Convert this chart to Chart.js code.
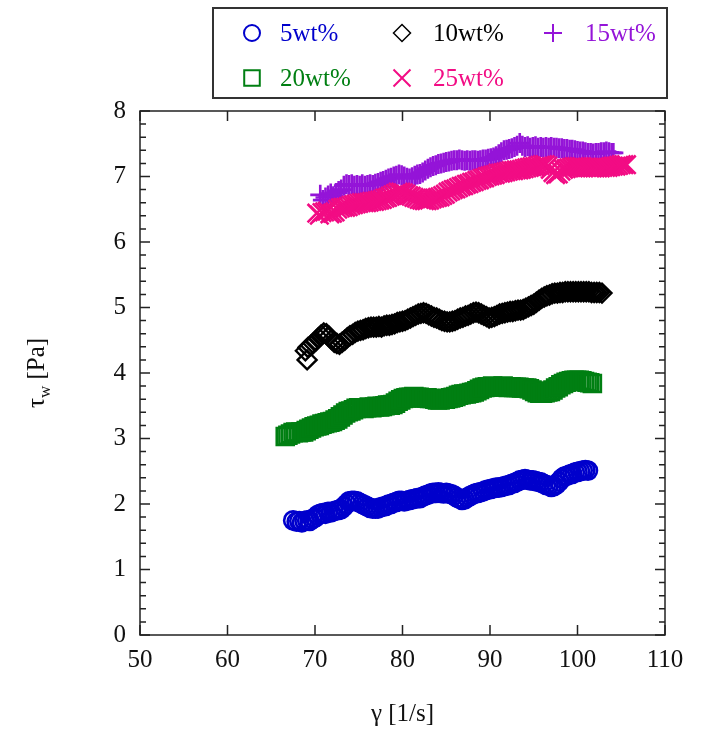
<!DOCTYPE html>
<html lang="en">
<head>
  <meta charset="UTF-8">
  <title>Wall shear stress</title>
  <style>
    body { margin: 0; background: #fff; }
    .chartContainer { position: relative; width: 705px; height: 729px; }
  </style>
</head>
<body>
  <div class="chartContainer">
    <canvas id="myChart"></canvas>
  </div>
  <script src="https://cdn.jsdelivr.net/npm/chart.js"></script>
  <script>
    // values: [shear rate, wall stress]
    const wt5 = [[67.5,1.75],[67.9,1.73],[68.2,1.74],[68.5,1.72],[68.8,1.74],[69.1,1.75],[69.4,1.74],[69.7,1.77],[70.0,1.79],[70.3,1.83],[70.6,1.85],[70.9,1.86],[71.2,1.85],[71.5,1.88],[71.8,1.87],[72.1,1.89],[72.4,1.90],[72.7,1.91],[73.0,1.92],[73.3,1.96],[73.6,2.00],[73.9,2.04],[74.2,2.05],[74.5,2.05],[74.8,2.04],[75.1,2.02],[75.4,2.00],[75.7,1.98],[76.0,1.96],[76.3,1.94],[76.6,1.93],[76.9,1.93],[77.2,1.93],[77.5,1.95],[77.8,1.96],[78.1,1.97],[78.4,1.99],[78.7,2.00],[79.0,2.02],[79.3,2.03],[79.6,2.05],[79.9,2.05],[80.2,2.04],[80.5,2.05],[80.8,2.06],[81.1,2.07],[81.4,2.08],[81.7,2.09],[82.0,2.09],[82.3,2.11],[82.6,2.13],[82.9,2.14],[83.2,2.16],[83.5,2.17],[83.8,2.17],[84.1,2.18],[84.4,2.17],[84.7,2.16],[85.0,2.17],[85.3,2.16],[85.6,2.15],[85.9,2.13],[86.2,2.10],[86.5,2.08],[86.8,2.06],[87.1,2.07],[87.4,2.10],[87.7,2.12],[88.0,2.14],[88.3,2.16],[88.6,2.17],[88.9,2.18],[89.2,2.19],[89.5,2.21],[89.8,2.22],[90.1,2.23],[90.4,2.24],[90.7,2.25],[91.0,2.25],[91.3,2.26],[91.6,2.27],[91.9,2.28],[92.2,2.29],[92.5,2.31],[92.8,2.32],[93.1,2.34],[93.4,2.36],[93.7,2.37],[94.0,2.38],[94.3,2.37],[94.6,2.36],[94.9,2.36],[95.2,2.35],[95.5,2.34],[95.8,2.33],[96.1,2.31],[96.4,2.29],[96.7,2.28],[97.0,2.26],[97.3,2.27],[97.6,2.30],[97.9,2.34],[98.2,2.39],[98.5,2.42],[98.8,2.43],[99.1,2.45],[99.4,2.46],[99.7,2.48],[100.0,2.49],[100.3,2.50],[100.6,2.51],[100.9,2.52],[101.2,2.51]]

    const wt10 = [[69.1,4.20],[68.9,4.34],[69.2,4.39],[69.5,4.42],[69.8,4.45],[70.1,4.49],[70.4,4.54],[70.7,4.58],[71.0,4.61],[71.3,4.60],[71.6,4.56],[71.9,4.51],[72.2,4.47],[72.5,4.45],[72.8,4.44],[73.1,4.47],[73.4,4.50],[73.7,4.54],[74.0,4.57],[74.3,4.59],[74.6,4.62],[74.9,4.64],[75.2,4.65],[75.5,4.66],[75.8,4.68],[76.1,4.69],[76.4,4.70],[76.7,4.70],[77.0,4.70],[77.3,4.71],[77.6,4.70],[77.9,4.72],[78.2,4.73],[78.5,4.73],[78.8,4.74],[79.1,4.75],[79.4,4.77],[79.7,4.78],[80.0,4.79],[80.3,4.80],[80.6,4.82],[80.9,4.84],[81.2,4.86],[81.5,4.88],[81.8,4.90],[82.1,4.91],[82.4,4.92],[82.7,4.91],[83.0,4.89],[83.3,4.87],[83.6,4.85],[83.9,4.84],[84.2,4.82],[84.5,4.80],[84.8,4.79],[85.1,4.78],[85.4,4.78],[85.7,4.79],[86.0,4.80],[86.3,4.82],[86.6,4.84],[86.9,4.85],[87.2,4.87],[87.5,4.88],[87.8,4.90],[88.1,4.92],[88.4,4.93],[88.7,4.92],[89.0,4.90],[89.3,4.88],[89.6,4.86],[89.9,4.84],[90.2,4.85],[90.5,4.86],[90.8,4.88],[91.1,4.90],[91.4,4.91],[91.7,4.92],[92.0,4.93],[92.3,4.94],[92.6,4.94],[92.9,4.95],[93.2,4.96],[93.5,4.96],[93.8,4.97],[94.1,4.99],[94.4,5.01],[94.7,5.03],[95.0,5.05],[95.3,5.08],[95.6,5.11],[95.9,5.14],[96.2,5.16],[96.5,5.18],[96.8,5.19],[97.1,5.21],[97.4,5.22],[97.7,5.22],[98.0,5.23],[98.3,5.23],[98.6,5.24],[98.9,5.24],[99.2,5.24],[99.5,5.24],[99.8,5.24],[100.1,5.24],[100.4,5.24],[100.7,5.24],[101.0,5.24],[101.3,5.24],[101.6,5.23],[101.9,5.23],[102.2,5.23],[102.5,5.23],[102.8,5.22]]

    const wt15 = [[70.6,6.72],[70.9,6.64],[71.2,6.68],[71.5,6.71],[71.8,6.74],[72.1,6.70],[72.4,6.75],[72.7,6.78],[73.0,6.80],[73.3,6.86],[73.6,6.88],[73.9,6.87],[74.2,6.88],[74.5,6.86],[74.8,6.87],[75.1,6.86],[75.4,6.88],[75.7,6.86],[76.0,6.87],[76.3,6.88],[76.6,6.87],[76.9,6.89],[77.2,6.90],[77.5,6.92],[77.8,6.93],[78.1,6.95],[78.4,6.97],[78.7,6.98],[79.0,7.00],[79.3,7.01],[79.6,7.03],[79.9,7.02],[80.2,7.00],[80.5,6.98],[80.8,6.97],[81.1,6.99],[81.4,7.01],[81.7,7.03],[82.0,7.04],[82.3,7.06],[82.6,7.09],[82.9,7.12],[83.2,7.14],[83.5,7.16],[83.8,7.17],[84.1,7.19],[84.4,7.20],[84.7,7.21],[85.0,7.22],[85.3,7.23],[85.6,7.24],[85.9,7.25],[86.2,7.25],[86.5,7.26],[86.8,7.25],[87.1,7.24],[87.4,7.25],[87.7,7.24],[88.0,7.25],[88.3,7.25],[88.6,7.24],[88.9,7.25],[89.2,7.26],[89.5,7.26],[89.8,7.27],[90.1,7.28],[90.4,7.29],[90.7,7.31],[91.0,7.34],[91.3,7.37],[91.6,7.40],[91.9,7.41],[92.2,7.42],[92.5,7.43],[92.8,7.45],[93.1,7.47],[93.4,7.51],[93.7,7.47],[94.0,7.45],[94.3,7.46],[94.6,7.44],[94.9,7.45],[95.2,7.46],[95.5,7.44],[95.8,7.45],[96.1,7.44],[96.4,7.45],[96.7,7.44],[97.0,7.45],[97.3,7.44],[97.6,7.44],[97.9,7.43],[98.2,7.43],[98.5,7.42],[98.8,7.42],[99.1,7.41],[99.4,7.41],[99.7,7.40],[100.0,7.39],[100.3,7.38],[100.6,7.38],[100.9,7.37],[101.2,7.36],[101.5,7.36],[101.8,7.35],[102.1,7.36],[102.4,7.36],[102.7,7.37],[103.0,7.37],[103.3,7.38],[103.6,7.37],[103.9,7.36],[104.1,7.36]]

    const wt20 = [[66.6,3.03],[66.9,3.05],[67.2,3.07],[67.5,3.09],[67.8,3.10],[68.1,3.09],[68.4,3.10],[68.7,3.10],[69.0,3.12],[69.3,3.14],[69.6,3.16],[69.9,3.18],[70.2,3.19],[70.5,3.20],[70.8,3.22],[71.1,3.23],[71.4,3.24],[71.7,3.25],[72.0,3.26],[72.3,3.28],[72.6,3.30],[72.9,3.33],[73.2,3.36],[73.5,3.39],[73.8,3.41],[74.1,3.42],[74.4,3.44],[74.7,3.46],[75.0,3.47],[75.3,3.47],[75.6,3.46],[75.9,3.47],[76.2,3.48],[76.5,3.47],[76.8,3.48],[77.1,3.49],[77.4,3.48],[77.7,3.49],[78.0,3.50],[78.3,3.51],[78.6,3.51],[78.9,3.52],[79.2,3.54],[79.5,3.57],[79.8,3.59],[80.1,3.61],[80.4,3.62],[80.7,3.63],[81.0,3.63],[81.3,3.64],[81.6,3.63],[81.9,3.63],[82.2,3.62],[82.5,3.62],[82.8,3.62],[83.1,3.61],[83.4,3.61],[83.7,3.60],[84.0,3.59],[84.3,3.59],[84.6,3.60],[84.9,3.60],[85.2,3.61],[85.5,3.62],[85.8,3.63],[86.1,3.64],[86.4,3.66],[86.7,3.67],[87.0,3.68],[87.3,3.68],[87.6,3.69],[87.9,3.70],[88.2,3.71],[88.5,3.73],[88.8,3.75],[89.1,3.77],[89.4,3.78],[89.7,3.79],[90.0,3.79],[90.3,3.80],[90.6,3.79],[90.9,3.79],[91.2,3.79],[91.5,3.80],[91.8,3.79],[92.1,3.78],[92.4,3.79],[92.7,3.78],[93.0,3.78],[93.3,3.78],[93.6,3.77],[93.9,3.77],[94.2,3.77],[94.5,3.76],[94.8,3.74],[95.1,3.72],[95.4,3.70],[95.7,3.69],[96.0,3.69],[96.3,3.70],[96.6,3.71],[96.9,3.72],[97.2,3.74],[97.5,3.77],[97.8,3.79],[98.1,3.82],[98.4,3.84],[98.7,3.86],[99.0,3.87],[99.3,3.88],[99.6,3.89],[99.9,3.89],[100.2,3.89],[100.5,3.88],[100.8,3.87],[101.1,3.86],[101.4,3.85],[101.7,3.84]]

    const wt25 = [[70.2,6.44],[70.5,6.41],[70.8,6.45],[71.1,6.46],[71.4,6.47],[71.7,6.43],[72.0,6.44],[72.3,6.46],[72.6,6.50],[72.9,6.52],[73.2,6.53],[73.5,6.53],[73.8,6.54],[74.1,6.56],[74.4,6.57],[74.7,6.58],[75.0,6.59],[75.3,6.60],[75.6,6.60],[75.9,6.60],[76.2,6.61],[76.5,6.62],[76.8,6.62],[77.1,6.63],[77.4,6.64],[77.7,6.65],[78.0,6.67],[78.3,6.68],[78.6,6.70],[78.9,6.72],[79.2,6.74],[79.5,6.76],[79.8,6.76],[80.1,6.75],[80.4,6.73],[80.7,6.71],[81.0,6.70],[81.3,6.68],[81.6,6.67],[81.9,6.65],[82.2,6.64],[82.5,6.63],[82.8,6.63],[83.1,6.64],[83.4,6.66],[83.7,6.67],[84.0,6.68],[84.3,6.69],[84.6,6.71],[84.9,6.73],[85.2,6.76],[85.5,6.78],[85.8,6.80],[86.1,6.81],[86.4,6.83],[86.7,6.85],[87.0,6.86],[87.3,6.88],[87.6,6.89],[87.9,6.91],[88.2,6.92],[88.5,6.94],[88.8,6.95],[89.1,6.97],[89.4,6.98],[89.7,7.00],[90.0,7.01],[90.3,7.02],[90.6,7.03],[90.9,7.05],[91.2,7.05],[91.5,7.06],[91.8,7.07],[92.1,7.08],[92.4,7.09],[92.7,7.09],[93.0,7.10],[93.3,7.10],[93.6,7.11],[93.9,7.12],[94.2,7.13],[94.5,7.14],[94.8,7.15],[95.1,7.15],[95.4,7.16],[95.7,7.17],[96.0,7.18],[96.3,7.18],[96.6,7.16],[96.9,7.11],[97.2,7.06],[97.5,7.03],[97.8,7.04],[98.1,7.08],[98.4,7.11],[98.7,7.12],[99.0,7.13],[99.3,7.14],[99.6,7.15],[99.9,7.15],[100.2,7.15],[100.5,7.15],[100.8,7.14],[101.1,7.14],[101.4,7.13],[101.7,7.13],[102.0,7.13],[102.3,7.13],[102.6,7.13],[102.9,7.14],[103.2,7.14],[103.5,7.14],[103.8,7.15],[104.1,7.16],[104.4,7.16],[104.7,7.17],[105.0,7.18],[105.3,7.18],[105.6,7.18]]

    const xTicks = [50, 60, 70, 80, 90, 100, 110]
    const yTicks = [0, 1, 2, 3, 4, 5, 6, 7, 8]

    const FONT = 'Liberation Serif'
    const toXY = arr => arr.map(p => ({x: p[0], y: p[1]}))

    // r/w: marker in plot, lr/lw: marker in legend
    const series = [
      {label: '5wt%',  data: wt5,  color: '#0000cc', style: 'circle',   r: 9,   w: 2.6, lr: 8,   lw: 2},
      {label: '10wt%', data: wt10, color: '#000000', style: 'rectRot',  r: 9.5, w: 2.4, lr: 8.5, lw: 1.5},
      {label: '15wt%', data: wt15, color: '#9414d8', style: 'cross',    r: 10,  w: 2.6, lr: 9,   lw: 2},
      {label: '20wt%', data: wt20, color: '#007f12', style: 'rect',     r: 12,  w: 2.6, lr: 11,  lw: 2},
      {label: '25wt%', data: wt25, color: '#f20c84', style: 'crossRot', r: 13,  w: 2.6, lr: 12,  lw: 2}
    ]

    const datasets = series.map((s, i) => ({
      label: s.label,
      data: toXY(s.data),
      pointStyle: s.style,
      pointRadius: s.r,
      pointBorderWidth: s.w,
      borderColor: s.color,
      backgroundColor: 'rgba(0,0,0,0)',
      showLine: false,
      order: series.length - i
    }))

    // frame, inward ticks, axis titles and the boxed legend
    const decor = {
      id: 'decor',
      afterDatasetsDraw(chart) {
        const ctx = chart.ctx
        const a = chart.chartArea
        const xs = chart.scales.x
        const ys = chart.scales.y
        ctx.save()
        ctx.strokeStyle = '#222'
        ctx.lineWidth = 1.5
        ctx.strokeRect(a.left, a.top, a.right - a.left, a.bottom - a.top)
        ctx.beginPath()
        xTicks.forEach(v => {
          const px = xs.getPixelForValue(v)
          ctx.moveTo(px, a.bottom); ctx.lineTo(px, a.bottom - 10)
          ctx.moveTo(px, a.top); ctx.lineTo(px, a.top + 10)
        })
        for (let k = 0; k <= 40; k++) {
          const py = ys.getPixelForValue(k * 0.2)
          const len = k % 5 === 0 ? 10 : 6
          ctx.moveTo(a.left, py); ctx.lineTo(a.left + len, py)
          ctx.moveTo(a.right, py); ctx.lineTo(a.right - len, py)
        }
        ctx.stroke()

        // axis titles
        ctx.fillStyle = '#111'
        ctx.font = '25px "' + FONT + '"'
        ctx.textAlign = 'center'
        ctx.textBaseline = 'middle'
        ctx.fillText('γ [1/s]', (a.left + a.right) / 2, 714)

        ctx.save()
        ctx.translate(36, (a.top + a.bottom) / 2)
        ctx.rotate(-Math.PI / 2)
        ctx.textAlign = 'left'
        ctx.textBaseline = 'alphabetic'
        const tau = 'τ', sub = 'w', rest = ' [Pa]'
        ctx.font = '25px "' + FONT + '"'
        const wTau = ctx.measureText(tau).width
        const wRest = ctx.measureText(rest).width
        ctx.font = '17px "' + FONT + '"'
        const wSub = ctx.measureText(sub).width
        const x0 = -(wTau + wSub + wRest) / 2
        ctx.font = '25px "' + FONT + '"'
        ctx.fillText(tau, x0, 8)
        ctx.font = '17px "' + FONT + '"'
        ctx.fillText(sub, x0 + wTau, 14)
        ctx.font = '25px "' + FONT + '"'
        ctx.fillText(rest, x0 + wTau + wSub, 8)
        ctx.restore()

        // legend
        ctx.lineWidth = 2
        ctx.strokeStyle = '#333'
        ctx.strokeRect(213, 8, 454, 90)
        const spots = [[252, 280, 33], [402, 433, 33], [553, 585, 33], [252, 280, 78], [402, 433, 78]]
        series.forEach((s, i) => {
          const sp = spots[i]
          ctx.strokeStyle = s.color
          ctx.fillStyle = 'rgba(0,0,0,0)'
          ctx.lineWidth = s.lw
          Chart.helpers.drawPoint(ctx, {pointStyle: s.style, radius: s.lr, borderWidth: s.lw, rotation: 0}, sp[0], sp[2])
          ctx.fillStyle = s.color
          ctx.font = '25px "' + FONT + '"'
          ctx.textAlign = 'left'
          ctx.textBaseline = 'middle'
          ctx.fillText(s.label, sp[1], sp[2] + 1)
        })
        ctx.restore()
      }
    }

    const config = {
      type: 'scatter',
      data: { datasets: datasets },
      options: {
        responsive: false,
        animation: false,
        devicePixelRatio: 1,
        layout: { padding: { left: 0, top: 111, right: 40, bottom: 0 } },
        plugins: { legend: { display: false }, tooltip: { enabled: false } },
        scales: {
          x: {
            type: 'linear', min: 50, max: 110,
            afterBuildTicks: s => { s.ticks = xTicks.map(v => ({value: v})) },
            afterFit: s => { s.height = 94 },
            grid: { display: false, drawTicks: false },
            border: { display: false },
            ticks: { padding: 10, color: '#111', font: { family: FONT, size: 25 } }
          },
          y: {
            type: 'linear', min: 0, max: 8,
            afterBuildTicks: s => { s.ticks = yTicks.map(v => ({value: v})) },
            afterFit: s => { s.width = 140 },
            grid: { display: false, drawTicks: false },
            border: { display: false },
            ticks: { padding: 14, color: '#111', font: { family: FONT, size: 25 } }
          }
        }
      },
      plugins: [decor]
    }

    const canvas = document.getElementById('myChart')
    canvas.width = 705
    canvas.height = 729
    const myChart = new Chart(canvas, config)
  </script>
</body>
</html>
